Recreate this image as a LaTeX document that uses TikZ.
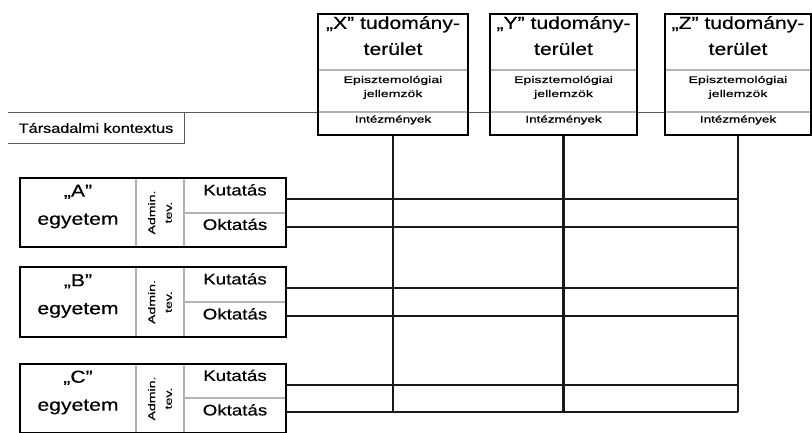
\documentclass[tikz,border=0pt]{standalone}
\usepackage{fontspec}
\setmainfont{Liberation Sans}[FakeStretch=1.22, FakeBold=0.4]
\newfontfamily\smallf{Liberation Sans}[FakeStretch=1.45, FakeBold=0.3]
\newfontfamily\instf{Liberation Sans}[FakeStretch=1.4, FakeBold=1.2]
\usetikzlibrary{fit}
\newcommand\fieldbox[4]{%
  \node[cell, fit={(#2,14)(#3,70)}, title] (#1t) {„#4” tudomány-\\terület};
  \node[cell, fit={(#2,70)(#3,112)}, epi] (#1e) {Episztemológiai\\jellemzök};
  \node[cell, fit={(#2,112)(#3,135)}, inst] (#1i) {Intézmények};
  \node[frame, fit={(#2,14)(#3,135)}] (#1) {};
}
\newcommand\unibox[5]{%
  \node[cell, fit={(20,#2)(136,#4)}, uni] (#1n) {„#5”\\egyetem};
  \node[cell, fit={(136,#2)(184,#4)}] (#1a) {};
  \node[adm] (#1at) at (#1a.center) {Admin.\\tev.};
  \node[cell, fit={(184,#2)(286,#3)}, act] (#1k) {Kutatás};
  \node[cell, fit={(184,#3)(286,#4)}, act] (#1o) {Oktatás};
  \node[frame, fit={(20,#2)(286,#4)}] (#1) {};
}
\begin{document}
\begin{tikzpicture}[x=0.75pt,y=-0.75pt,
  cell/.style={draw=gray!60, line width=0.8pt, inner sep=0pt, align=center, fill=white},
  frame/.style={draw=black, line width=2pt, inner sep=0pt},
  link/.style={draw=black!90, line width=1.9pt},
  thinline/.style={draw=gray!70!black, line width=0.7pt},
  title/.style={font=\fontsize{13}{19.5}\selectfont},
  uni/.style={font=\fontsize{13}{21}\selectfont},
  act/.style={font=\fontsize{11.5}{14}\selectfont},
  epi/.style={font=\smallf\fontsize{7.3}{10.5}\selectfont},
  inst/.style={font=\instf\fontsize{7.2}{9}\selectfont},
  adm/.style={font=\smallf\fontsize{7.3}{12.5}\selectfont, rotate=90, align=center, inner sep=0pt},
  ctxtext/.style={font=\fontsize{10}{12}\selectfont, inner sep=0pt},
]
\useasboundingbox (0,0) rectangle (812,432);
% social context line
\coordinate (sl) at (8,112);
\coordinate (sr) at (812,112);
\draw[thinline] (sl) -- (sr);
\coordinate (ctxr) at (184,112);
\coordinate (ctxbr) at (184,143);
\coordinate (ctxbl) at (8,143);
\draw[thinline] (ctxr) -- (ctxbr) -- (ctxbl);
\node[ctxtext] (ctx) at (96,128) {Társadalmi kontextus};
% fields
\fieldbox{X}{318}{468}{X}
\fieldbox{Y}{490}{637}{Y}
\fieldbox{Z}{665}{811}{Z}
% universities
\unibox{A}{178}{213}{247}{A}
\unibox{B}{267}{302}{337}{B}
\unibox{C}{364}{398}{433}{C}
% connectors
\coordinate (bot) at (0,412);
\foreach \f in {X,Y,Z} \draw[link] (\f.south) -- (\f.south |- bot);
\coordinate (A1) at (286,199);
\coordinate (A2) at (286,227);
\coordinate (B1) at (286,288);
\coordinate (B2) at (286,316);
\coordinate (C1) at (286,385);
\coordinate (C2) at (286,412);
\foreach \p in {A1,A2,B1,B2,C1,C2} \draw[link] (\p) -- (\p -| Z.south);
\end{tikzpicture}
\end{document}
